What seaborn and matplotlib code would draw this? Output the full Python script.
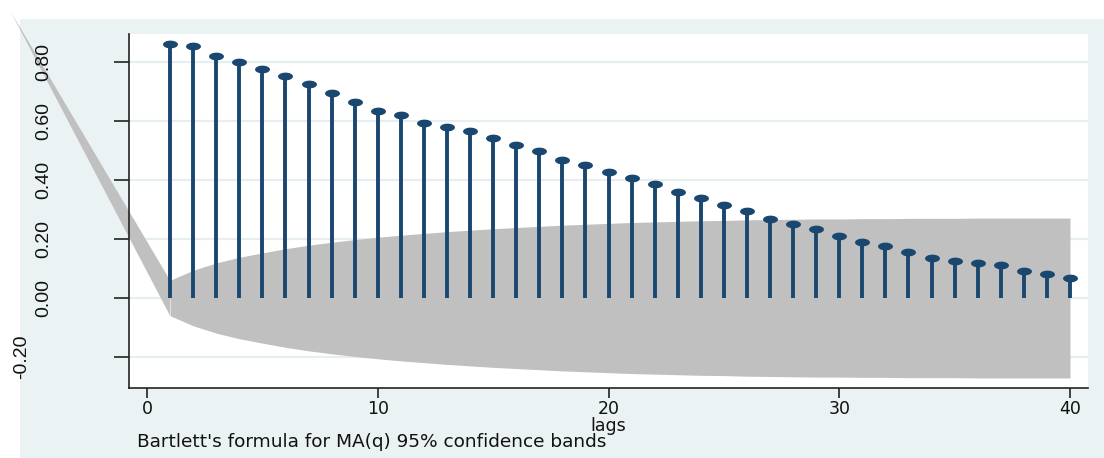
import numpy as np
import pandas as pd
import matplotlib
matplotlib.use("Agg")
import matplotlib.pyplot as plt
import matplotlib.transforms as mtransforms
from matplotlib.path import Path
from matplotlib.patches import Rectangle, Polygon
import seaborn as sns

# ---------------- data ----------------
lags = list(range(1, 41))
acf = [0.860, 0.854, 0.821, 0.801, 0.777, 0.753, 0.724, 0.694, 0.663, 0.635,
       0.619, 0.593, 0.581, 0.565, 0.541, 0.519, 0.497, 0.467, 0.452, 0.426,
       0.408, 0.386, 0.359, 0.340, 0.317, 0.296, 0.269, 0.251, 0.234, 0.209,
       0.191, 0.175, 0.155, 0.136, 0.124, 0.118, 0.112, 0.093, 0.082, 0.069]
band_upper = [0.060, 0.094, 0.119, 0.138, 0.153, 0.167, 0.179, 0.189, 0.198, 0.206,
              0.213, 0.219, 0.225, 0.230, 0.235, 0.239, 0.243, 0.247, 0.250, 0.253,
              0.256, 0.258, 0.260, 0.262, 0.263, 0.265, 0.266, 0.267, 0.268, 0.268,
              0.269, 0.269, 0.270, 0.270, 0.270, 0.271, 0.271, 0.271, 0.271, 0.271]
band_lower = [-v for v in band_upper]
# stray band vertex seen outside the plot (rendering artefact in the reference)
stray_vertex = (-5.9, 0.97)

yticks = [-0.2, 0.0, 0.2, 0.4, 0.6, 0.8]
ytick_labels = ["-0.20", "0.00", "0.20", "0.40", "0.60", "0.80"]
xticks = [0, 10, 20, 30, 40]
xtick_labels = ["0", "10", "20", "30", "40"]
xlabel = "lags"
note = "Bartlett's formula for MA(q) 95% confidence bands"

df = pd.DataFrame({"lag": lags, "acf": acf, "lo": band_lower, "hi": band_upper})

# ---------------- styling ----------------
NAVY = "#1A476F"
BAND = "#C0C0C0"
BG = "#EAF2F3"
GRID = "#E6EEF0"

sns.set_theme(style="white")
plt.rcParams["font.family"] = ["DejaVu Sans"]

W, H = 1104, 458
fig = plt.figure(figsize=(W / 100, H / 100), dpi=100, facecolor="white")
fig.add_artist(Rectangle((20 / W, 0), 1 - 20 / W, 1 - 19 / H, transform=fig.transFigure,
                         facecolor=BG, edgecolor="none", zorder=-10))

L, R, T, B = 129, 1088, 34, 388
ax = fig.add_axes([L / W, 1 - B / H, (R - L) / W, (B - T) / H])
ax.set_facecolor("white")
ax.set_xlim(-0.78, 40.78)
ax.set_ylim(-0.305, 0.895)

# grid
ax.set_axisbelow(True)
ax.set_yticks(yticks)
ax.yaxis.grid(True, color=GRID, linewidth=1.6)
ax.xaxis.grid(False)

# confidence band
ax.fill_between(df["lag"], df["lo"], df["hi"], color=BAND, linewidth=0, zorder=1)
stray = Polygon([(df["lag"][0], df["hi"][0]), stray_vertex, (df["lag"][0], df["lo"][0])],
                closed=True, facecolor=BAND, edgecolor="none", clip_on=False, zorder=1)
ax.add_patch(stray)

# stems
ax.vlines(df["lag"], 0, df["acf"], color=NAVY, linewidth=2.8, zorder=2)

# elliptical markers
t = np.linspace(0, 2 * np.pi, 60)
ell = Path(np.column_stack([np.cos(t), 0.52 * np.sin(t)]), closed=True)
sns.scatterplot(data=df, x="lag", y="acf", marker=ell, s=115, color=NAVY,
                linewidth=0, ax=ax, zorder=3, legend=False)

# axes frame
for side in ["top", "right"]:
    ax.spines[side].set_visible(False)
for side in ["left", "bottom"]:
    ax.spines[side].set_color("#222222")
    ax.spines[side].set_linewidth(1.2)

ax.set_xticks(xticks)
ax.set_xticklabels(xtick_labels, fontsize=12.5, color="#111111")
ax.tick_params(axis="x", direction="out", length=7, width=1.2, color="#222222",
               pad=1.5, bottom=True)
ax.tick_params(axis="y", direction="out", length=11, width=1.2, color="#222222",
               left=True, labelleft=False)
ax.set_xlabel("")
ax.set_ylabel("")

# y tick labels (vertical, placed as in the reference)
trans = mtransforms.blended_transform_factory(fig.transFigure, ax.transData)
for yv, lab in zip(yticks, ytick_labels):
    xc = 22 if lab.startswith("-") else 44
    ax.text(xc / W, yv, lab, rotation=90, ha="center", va="center", transform=trans,
            fontsize=14, family=["Liberation Sans", "DejaVu Sans"],
            color="#111111", clip_on=False, zorder=5)

fig.text((L + R) / 2 / W, 1 - 426 / H, xlabel, ha="center", va="center",
         fontsize=12.5, color="#111111")
fig.text(137 / W, 1 - 442 / H, note, ha="left", va="center",
         fontsize=13.3, color="#111111")

fig.savefig("out.png", dpi=100, facecolor="white")
